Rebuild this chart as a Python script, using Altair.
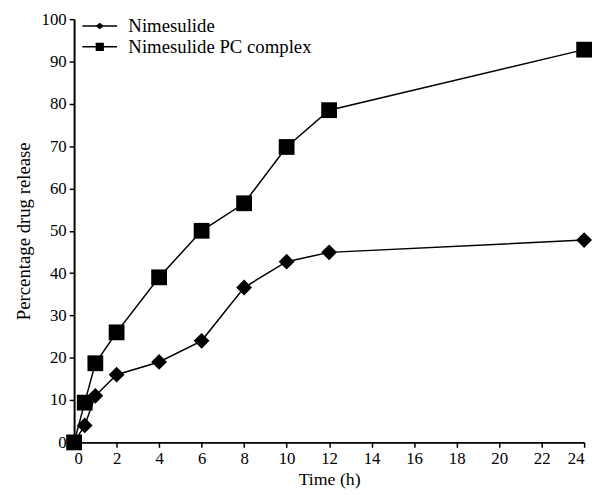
import altair as alt
import pandas as pd

time_h = [0, 0.5, 1, 2, 4, 6, 8, 10, 12, 24]
nimesulide = [0, 4.0, 11, 16, 19, 24, 36.6, 42.7, 44.9, 47.8]
complex_pc = [0, 9.4, 18.7, 26, 39, 50, 56.5, 69.8, 78.5, 92.8]
series_names = ["Nimesulide", "Nimesulide PC complex"]
x_ticks = list(range(0, 25, 2))
y_ticks = list(range(0, 101, 10))

rows = []
for t, v in zip(time_h, nimesulide):
    rows.append({"time": t, "value": v, "series": series_names[0]})
for t, v in zip(time_h, complex_pc):
    rows.append({"time": t, "value": v, "series": series_names[1]})
df = pd.DataFrame(rows)

FONT = "Liberation Serif"

x = alt.X("time:Q", scale=alt.Scale(domain=[0, 24], nice=False),
          axis=alt.Axis(values=x_ticks, title="Time (h)", format="d",
                        titleFontSize=18, titlePadding=5))
y = alt.Y("value:Q", scale=alt.Scale(domain=[0, 100], nice=False),
          axis=alt.Axis(values=y_ticks, title="Percentage drug release", format="d",
                        titleFontSize=19, titlePadding=8))

lines = alt.Chart(df).mark_line(color="black", strokeWidth=1.5).encode(
    x=x, y=y, detail="series:N", order="time:Q"
)

points = alt.Chart(df).mark_point(filled=True, color="black", opacity=1, size=256).encode(
    x=x, y=y,
    shape=alt.Shape("series:N",
                    scale=alt.Scale(domain=series_names, range=["diamond", "square"]),
                    legend=None)
)

# legend glyphs: a short line with the marker in the middle (all filled areas)
legend_paths = [
    "M-1.6,-0.065H1.6V0.065H-1.6ZM0,-0.3L0.38,0L0,0.3L-0.38,0Z",
    "M-1.6,-0.065H1.6V0.065H-1.6ZM-0.38,-0.38H0.38V0.38H-0.38Z",
]

legend_layer = alt.Chart(df).transform_filter("false").mark_point(
    filled=True, color="black", opacity=1, size=484
).encode(
    x=x, y=y,
    shape=alt.Shape("series:N",
                    scale=alt.Scale(domain=series_names, range=legend_paths),
                    legend=alt.Legend(
                        title=None, orient="none", legendX=15, legendY=-4,
                        symbolSize=484, labelFont=FONT, labelFontSize=19,
                        labelColor="black", labelOffset=18, rowPadding=0,
                        labelLimit=400,
                        symbolFillColor="black", symbolStrokeColor="black",
                        symbolStrokeWidth=0, symbolOpacity=1,
                    ))
)

chart = (lines + points + legend_layer).resolve_scale(shape="independent").properties(
    width=517, height=429,
    autosize=alt.AutoSizeParams(type="none"),
    padding={"left": 67, "top": 8, "right": 10, "bottom": 50},
).configure_view(stroke=None).configure_axis(
    grid=False, domainColor="black", domainWidth=2, tickColor="black",
    tickWidth=1.5, tickSize=5, labelFont=FONT, labelFontSize=17,
    labelColor="black", titleFont=FONT, titleColor="black",
    titleFontWeight="normal", labelPadding=3
)

chart.save("out.html", embed_options={"renderer": "svg", "actions": False})
